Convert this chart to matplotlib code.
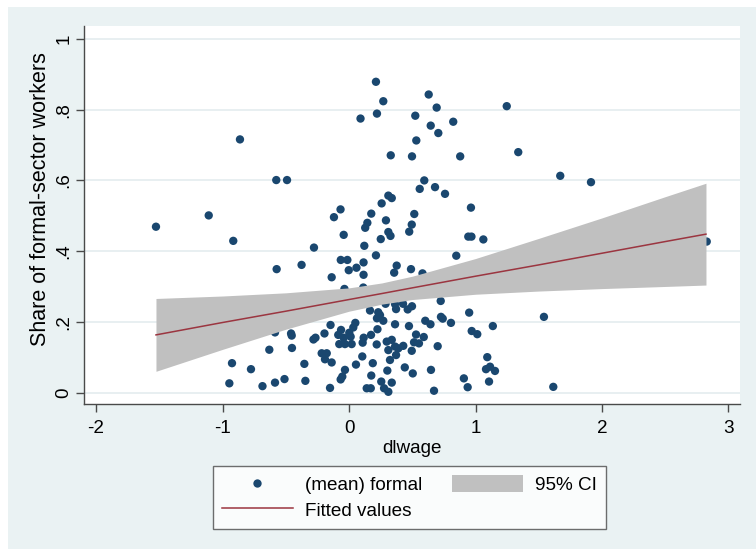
import matplotlib
matplotlib.use("Agg")
import matplotlib.pyplot as plt
from matplotlib.patches import Rectangle, Patch
from matplotlib.lines import Line2D

plt.rcParams['font.family'] = ['Liberation Sans', 'DejaVu Sans']

# scatter data: dlwage (x) and (mean) formal (y)
dlwage = [0.213, 0.271, 0.221, 0.091, 0.524, -0.862, 0.532, 0.330, 0.498, -0.575,
          -0.490, 0.559, 0.311, 0.338, 0.258, -0.067, -0.119, 0.176, 0.516, -1.109,
          0.630, 0.693, 1.247, 0.646, 0.824, 0.706, 0.879, 1.338, 0.595, 0.680,
          0.759, 0.964, 1.670, 1.913, -1.526, -0.915, 0.292, 0.145, 0.128, 0.496,
          0.476, -0.042, 0.311, 0.328, 0.251, 0.121, -0.277, 0.213, -0.375, -0.572,
          -0.065, -0.013, 0.115, 0.059, -0.002, 0.115, -0.137, 0.377, 0.357, 0.490,
          0.943, 0.968, 1.062, 0.848, 0.581, 2.828, -0.036, 0.113, 0.166, 0.289,
          0.364, 0.372, 0.427, 0.498, 0.464, 0.231, 0.245, 0.221, 0.271, -0.146,
          0.050, 0.034, 0.002, -0.063, -0.085, -0.042, 0.013, -0.077, -0.032, 0.021,
          -0.194, -0.265, -0.281, -0.458, -0.453, -0.585, 0.364, 0.474, 0.225, 0.174,
          0.116, 0.108, 0.219, 0.530, 0.514, 0.298, 0.338, 0.364, 0.311, 0.390,
          0.429, 0.496, -0.630, -0.451, -0.216, -0.176, -0.190, -0.137, 0.105, 0.372,
          0.324, -0.925, -0.775, -0.353, 0.055, 0.188, 0.441, 0.504, -0.032, -0.053,
          -0.066, 0.303, 0.176, -0.946, -0.684, -0.585, -0.510, -0.345, -0.150, 0.140,
          0.172, 0.255, 0.338, 0.277, 0.311, 0.725, 0.603, 0.644, 0.727, 0.741,
          0.806, 0.950, 1.137, 0.970, 1.014, 0.591, 0.553, 0.701, 1.093, 0.648,
          1.083, 1.115, 1.154, 0.908, 0.938, 1.107, 0.672, 1.541, 1.615]
formal = [0.879, 0.824, 0.789, 0.775, 0.783, 0.716, 0.713, 0.671, 0.668, 0.601,
          0.601, 0.576, 0.557, 0.550, 0.535, 0.518, 0.496, 0.506, 0.505, 0.501,
          0.843, 0.806, 0.810, 0.755, 0.766, 0.734, 0.668, 0.680, 0.600, 0.581,
          0.562, 0.523, 0.613, 0.595, 0.469, 0.429, 0.487, 0.480, 0.466, 0.475,
          0.455, 0.446, 0.454, 0.443, 0.434, 0.415, 0.410, 0.388, 0.361, 0.349,
          0.375, 0.375, 0.368, 0.353, 0.346, 0.333, 0.326, 0.359, 0.339, 0.349,
          0.441, 0.441, 0.433, 0.387, 0.337, 0.427, 0.293, 0.297, 0.232, 0.251,
          0.250, 0.236, 0.251, 0.244, 0.235, 0.227, 0.219, 0.210, 0.203, 0.191,
          0.197, 0.184, 0.169, 0.177, 0.163, 0.155, 0.158, 0.137, 0.137, 0.137,
          0.167, 0.155, 0.150, 0.167, 0.161, 0.170, 0.193, 0.188, 0.179, 0.163,
          0.155, 0.141, 0.136, 0.164, 0.142, 0.144, 0.149, 0.130, 0.120, 0.125,
          0.132, 0.118, 0.121, 0.126, 0.111, 0.111, 0.094, 0.085, 0.102, 0.106,
          0.092, 0.083, 0.066, 0.081, 0.079, 0.083, 0.071, 0.054, 0.064, 0.045,
          0.037, 0.062, 0.048, 0.026, 0.018, 0.028, 0.038, 0.033, 0.013, 0.012,
          0.012, 0.031, 0.028, 0.012, 0.002, 0.259, 0.203, 0.193, 0.214, 0.209,
          0.197, 0.226, 0.188, 0.174, 0.165, 0.157, 0.139, 0.131, 0.100, 0.064,
          0.066, 0.073, 0.061, 0.040, 0.015, 0.031, 0.005, 0.214, 0.016]

# fitted line and 95% CI band
fit_x = [-1.526, -1.0, -0.5, 0.0, 0.26, 0.5, 1.0, 1.5, 2.0, 2.5, 2.822]
fit_y = [0.163, 0.198, 0.230, 0.263, 0.280, 0.296, 0.329, 0.361, 0.394, 0.427, 0.448]
ci_lo = [0.060, 0.122, 0.179, 0.230, 0.250, 0.263, 0.278, 0.287, 0.294, 0.300, 0.304]
ci_hi = [0.266, 0.273, 0.282, 0.296, 0.310, 0.329, 0.379, 0.436, 0.494, 0.554, 0.592]

xticks = [-2, -1, 0, 1, 2, 3]
xtick_labels = ['-2', '-1', '0', '1', '2', '3']
yticks = [0, 0.2, 0.4, 0.6, 0.8, 1.0]
ytick_labels = ['0', '.2', '.4', '.6', '.8', '1']

W, H = 756, 549
BG = '#EAF2F3'
NAVY = '#1A476F'
MAROON = '#9B3540'
CIGRAY = '#C0C0C0'
AXC = '#4A4A4A'
FS = 13.6

fig = plt.figure(figsize=(W / 100, H / 100), dpi=100, facecolor='white')
fig.patches.append(Rectangle((8 / W, 0), 1, 1 - 7 / H, transform=fig.transFigure,
                             facecolor=BG, edgecolor='none', zorder=-10))

ax = fig.add_axes([84 / W, 1 - 404 / H, (740 - 84) / W, (404 - 26) / H])
ax.set_facecolor('white')
ax.set_xlim(-2.095, 3.091)
ax.set_ylim(-0.0325, 1.0368)

for yv in yticks:
    ax.axhline(yv, color='#E6EEF0', lw=1.3, zorder=0)

ax.scatter(dlwage, formal, s=36, color=NAVY, edgecolors='none', zorder=2)
ax.fill_between(fit_x, ci_lo, ci_hi, color=CIGRAY, lw=0, zorder=3)
ax.plot(fit_x, fit_y, color=MAROON, lw=1.1, zorder=4)

for s in ['top', 'right']:
    ax.spines[s].set_visible(False)
for s in ['left', 'bottom']:
    ax.spines[s].set_color(AXC)
    ax.spines[s].set_linewidth(1.0)

ax.set_xticks(xticks)
ax.set_xticklabels(xtick_labels)
ax.set_yticks(yticks)
ax.set_yticklabels(ytick_labels, rotation=90, va='center')
ax.tick_params(axis='both', direction='out', length=5.5, width=1.0, color=AXC,
               labelsize=FS, labelcolor='black')
ax.tick_params(axis='x', pad=6)
ax.tick_params(axis='y', pad=3)

ax.set_xlabel('dlwage', fontsize=FS, labelpad=2)
ax.set_ylabel('Share of formal-sector workers', fontsize=15.5)
ax.yaxis.set_label_coords(-0.067, 0.542)
ax.yaxis.label.set_verticalalignment('center')

handles = [
    Line2D([], [], ls='none', marker='o', markersize=6, color=NAVY, markeredgewidth=0),
    Line2D([], [], color=MAROON, lw=1.1),
    Patch(facecolor=CIGRAY, edgecolor='none'),
]
labels = ['(mean) formal', 'Fitted values', '95% CI']
leg = fig.legend(handles, labels, ncol=2, loc='upper left',
                 bbox_to_anchor=(213 / W, 1 - 466 / H),
                 fontsize=FS, frameon=True, fancybox=False, shadow=False,
                 handlelength=3.75, handleheight=1.0, handletextpad=0.62,
                 columnspacing=1.6, labelspacing=0.35, borderpad=0.48,
                 borderaxespad=0)
leg.get_frame().set_edgecolor(AXC)
leg.get_frame().set_linewidth(1.0)
leg.get_frame().set_facecolor('white')

fig.savefig('out.png', dpi=100, facecolor=fig.get_facecolor())
